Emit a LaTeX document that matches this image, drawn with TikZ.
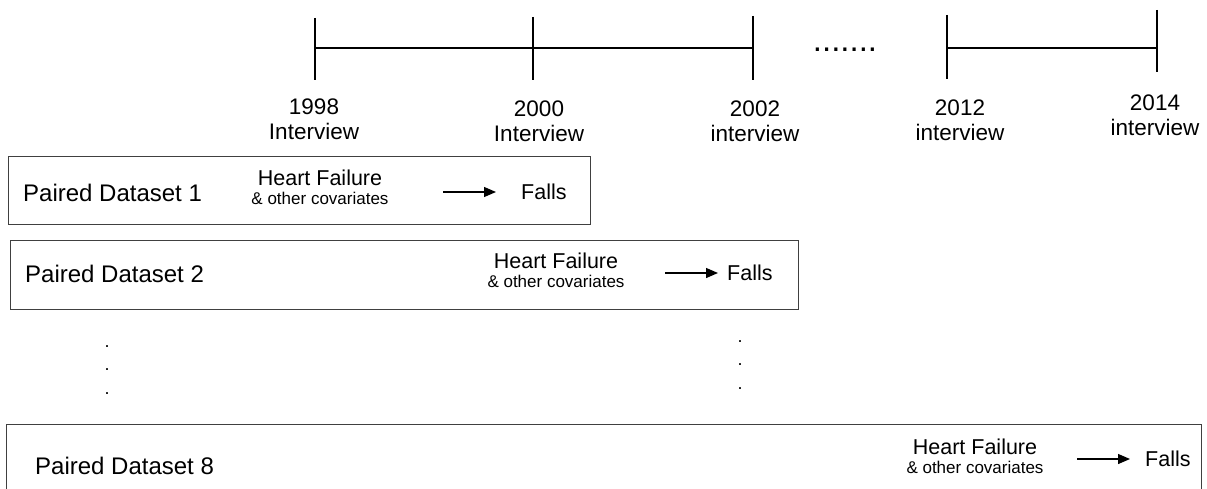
\documentclass[tikz,border=0pt]{standalone}
\usepackage{fontspec}
\setmainfont{Liberation Sans}
\usetikzlibrary{positioning,arrows.meta}

\begin{document}
\begin{tikzpicture}[x=1pt, y=-1pt,
    yearlbl/.style={align=center, inner sep=0pt, font=\fontsize{22.5}{25}\selectfont},
    pairbox/.style={draw=black!75, line width=1.2pt, inner sep=0pt, anchor=north west},
    pairlbl/.style={anchor=west, inner sep=0pt, font=\fontsize{24}{28}\selectfont},
    cause/.style={align=center, inner sep=0pt, font=\fontsize{21.5}{24}\selectfont},
    covlbl/.style={inner sep=0pt, font=\fontsize{17}{20}\selectfont},
    outcome/.style={anchor=west, inner sep=0pt, font=\fontsize{21.5}{24}\selectfont},
    tick/.style={line width=1.1pt},
    arr/.style={-{Triangle[length=12pt, width=10pt]}, line width=1.3pt},
    vdots/.style={align=center, inner sep=0pt, font=\fontsize{18}{23.5}\selectfont},
]
\clip (0,0) rectangle (1207,489);

% timeline
\coordinate (y98) at (315,48);
\coordinate (y00) at (533,48);
\coordinate (y02) at (753,48);
\coordinate (y12) at (947,48);
\coordinate (y14) at (1157,48);
\draw[tick] (y98) -- (y02);
\draw[tick] (y12) -- (y14);
\draw[tick] (315,18) -- (315,80);
\draw[tick, line width=1.6pt] (533,17) -- (533,80);
\draw[tick] (753,16) -- (753,80);
\draw[tick] (947,15) -- (947,79);
\draw[tick] (1157,10) -- (1157,72);
\node[inner sep=0pt, font=\fontsize{33}{33}\selectfont] (gap) at (845,50) {.......};

\node[yearlbl] (l98) at (314,119) {1998\\Interview};
\node[yearlbl] (l00) at (539,121) {2000\\Interview};
\node[yearlbl] (l02) at (755,121) {2002\\interview};
\node[yearlbl] (l12) at (960,120) {2012\\interview};
\node[yearlbl] (l14) at (1155,115) {2014\\interview};

% paired datasets
\node[pairbox, minimum width=582pt, minimum height=68pt] (d1) at (8,156) {};
\node[pairlbl] (p1) at (23,193) {Paired Dataset 1};
\node[cause] (h1) at (320,178) {Heart Failure};
\node[covlbl, below=6pt of h1] (c1) {\& other covariates};
\coordinate (a1) at (443,192);
\node[outcome] (f1) at (521,192) {Falls};
\draw[arr, shorten >=25pt] (a1) -- (f1.west);

\node[pairbox, minimum width=788pt, minimum height=69pt] (d2) at (10,240) {};
\node[pairlbl] (p2) at (25,274) {Paired Dataset 2};
\node[cause] (h2) at (556,261) {Heart Failure};
\node[covlbl, below=6pt of h2] (c2) {\& other covariates};
\coordinate (a2) at (665,273);
\node[outcome] (f2) at (727,273) {Falls};
\draw[arr, shorten >=9pt] (a2) -- (f2.west);

\node[vdots] (v1) at (107,370) {.\\.\\.};
\node[vdots] (v2) at (740,365) {.\\.\\.};

\node[pairbox, minimum width=1195pt, minimum height=80pt] (d8) at (6,424) {};
\node[pairlbl] (p8) at (35,466) {Paired Dataset 8};
\node[cause] (h8) at (975,447) {Heart Failure};
\node[covlbl, below=6pt of h8] (c8) {\& other covariates};
\coordinate (a8) at (1077,459);
\node[outcome] (f8) at (1145,459) {Falls};
\draw[arr, shorten >=15pt] (a8) -- (f8.west);
\end{tikzpicture}
\end{document}
